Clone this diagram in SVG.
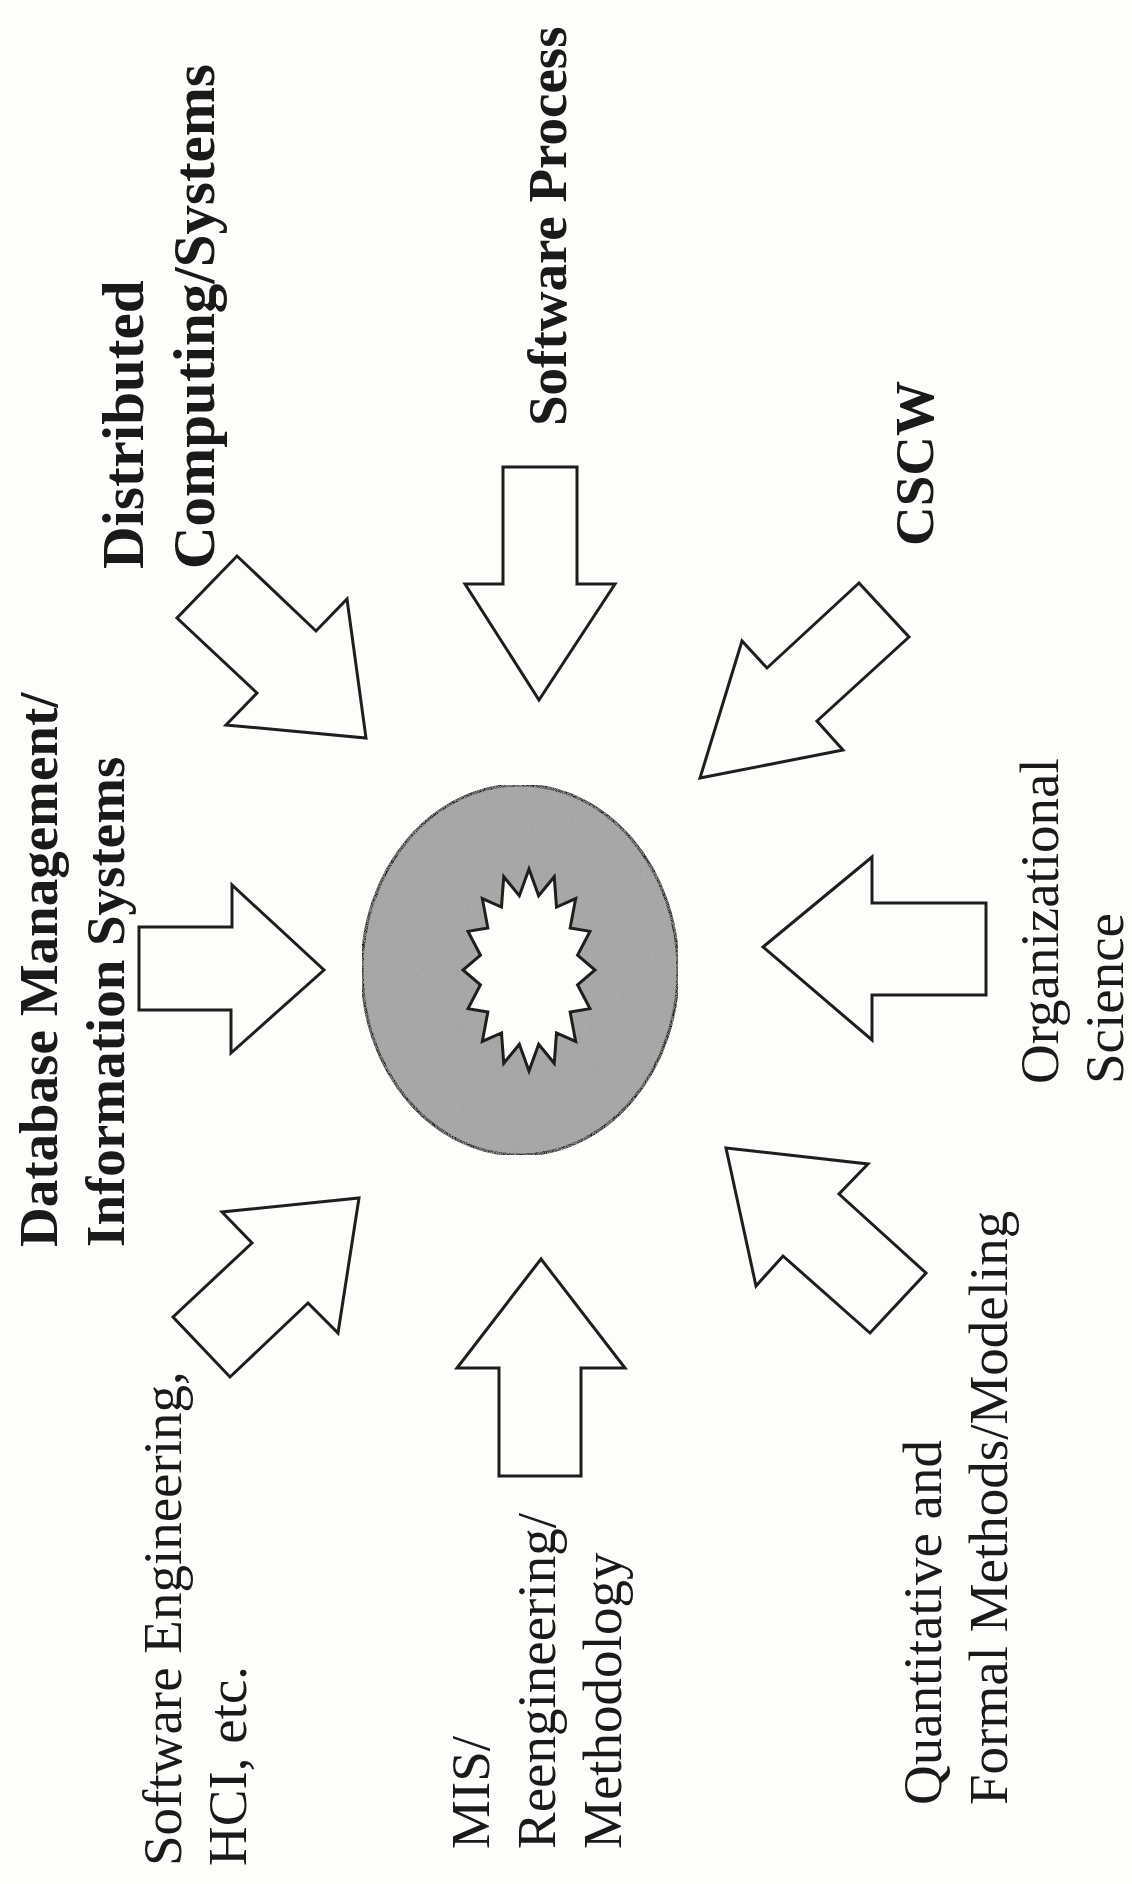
<svg xmlns="http://www.w3.org/2000/svg" width="1132" height="1884" viewBox="0 0 1132 1884">
<style>
.arrow{fill:#fdfdfb;stroke:#1e1e1e;stroke-width:3;stroke-linejoin:miter}
.b{font-family:"Liberation Serif","Times New Roman",serif;font-weight:bold;font-size:55px;fill:#1a1a1a}
.r{font-family:"Liberation Serif","Times New Roman",serif;font-size:55px;fill:#1a1a1a}
.big{font-size:59px}
</style>
<defs>
<filter id="grain" x="0" y="0" width="100%" height="100%">
<feTurbulence type="fractalNoise" baseFrequency="1.1" numOctaves="2" seed="3" result="n"/>
<feColorMatrix in="n" type="matrix" values="0 0 0 0 0.42  0 0 0 0 0.42  0 0 0 0 0.42  1.8 0 0 0 -0.6" result="g"/>
<feComposite in="g" in2="SourceGraphic" operator="in" result="gc"/>
<feMerge><feMergeNode in="SourceGraphic"/><feMergeNode in="gc"/></feMerge>
</filter>
</defs>
<rect width="1132" height="1884" fill="#fdfdfb"/>
<g id="center">
<ellipse cx="520" cy="970" rx="158" ry="185" fill="#a4a4a4" stroke="#1e1e1e" stroke-width="3" filter="url(#grain)"/>
<polygon fill="#fdfdfb" stroke="#1e1e1e" stroke-width="3" points="529,869 538.66,895.7 554.26,876.69 556.5,907.01 575.67,898.58 570.16,927.91 589.98,931.35 577.55,955.22 595,970 577.55,984.78 589.98,1008.65 570.16,1012.09 575.67,1041.42 556.5,1032.99 554.26,1063.31 538.66,1044.3 529,1071 519.34,1044.3 503.74,1063.31 501.5,1032.99 482.33,1041.42 487.84,1012.09 468.02,1008.65 480.45,984.78 463,970 480.45,955.22 468.02,931.35 487.84,927.91 482.33,898.58 501.5,907.01 503.74,876.69 519.34,895.7"/>
</g>
<g id="connectors">
<polygon id="arrow-db" class="arrow" points="139,927 232,927 232,885 324,970 231,1053 231,1010 139,1010"/>
<polygon id="arrow-dist" class="arrow" points="237,556 316,631 347,599 366,738 226,725 257,693 177,618"/>
<polygon id="arrow-sp" class="arrow" points="503,467 577,467 577,584 615,584 539,700 465,584 503,584"/>
<polygon id="arrow-cscw" class="arrow" points="859,583 909,637 817,721 843,750 700,778 742,641 767,668"/>
<polygon id="arrow-org" class="arrow" points="763,947 872,857 872,903 986,903 986,995 872,995 872,1040"/>
<polygon id="arrow-quant" class="arrow" points="726,1148 868,1164 839,1194 926,1273 870,1333 783,1256 756,1286"/>
<polygon id="arrow-mis" class="arrow" points="541,1259 625,1368 581,1368 581,1476 499,1476 499,1368 457,1368"/>
<polygon id="arrow-se" class="arrow" points="359,1198 338,1333 308,1303 230,1377 173,1317 252,1243 222,1212"/>
</g>
<g id="label-db">
<text class="b" transform="translate(57,1247) rotate(-90)">Database Management/</text>
<text class="b" transform="translate(124,1247) rotate(-90)">Information Systems</text>
</g>
<g id="label-dist">
<text class="b big" transform="translate(143,569) rotate(-90)">Distributed</text>
<text class="b big" transform="translate(214,569) rotate(-90)">Computing/Systems</text>
</g>
<g id="label-sp">
<text class="b" transform="translate(566,426) rotate(-90)">Software Process</text>
</g>
<g id="label-cscw">
<text class="b" transform="translate(933,546) rotate(-90)">CSCW</text>
</g>
<g id="label-org">
<text class="r" transform="translate(1058,1084) rotate(-90)">Organizational</text>
<text class="r" transform="translate(1123,1084) rotate(-90)">Science</text>
</g>
<g id="label-quant">
<text class="r" transform="translate(941,1805) rotate(-90)">Quantitative and</text>
<text class="r" transform="translate(1007,1805) rotate(-90)">Formal Methods/Modeling</text>
</g>
<g id="label-mis">
<text class="r" transform="translate(489,1849) rotate(-90)">MIS/</text>
<text class="r" transform="translate(555,1849) rotate(-90)">Reengineering/</text>
<text class="r" transform="translate(621,1849) rotate(-90)">Methodology</text>
</g>
<g id="label-se">
<text class="r" transform="translate(181,1866) rotate(-90)">Software Engineering,</text>
<text class="r" transform="translate(246,1866) rotate(-90)">HCI, etc.</text>
</g>
</svg>
